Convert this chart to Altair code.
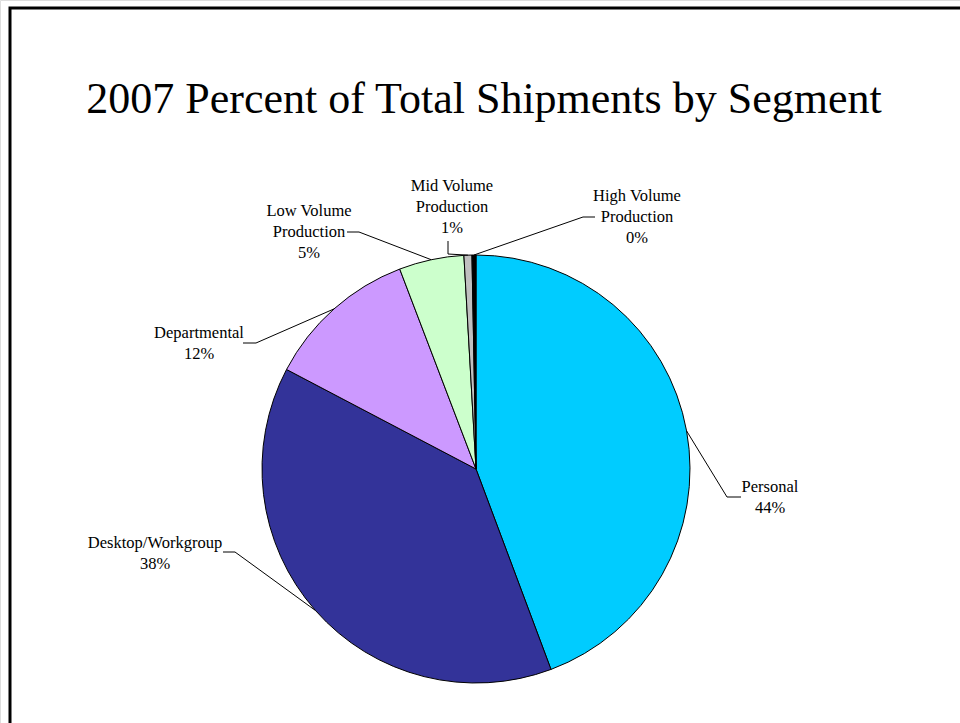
import math
import altair as alt
import pandas as pd

# ---- data ----
segments = ["Personal", "Desktop/Workgroup", "Departmental",
            "Low Volume Production", "Mid Volume Production", "High Volume Production"]
label_text = ["Personal", "Desktop/Workgroup", "Departmental",
              "Low Volume\nProduction", "Mid Volume\nProduction", "High Volume\nProduction"]
values = [44.3, 38.4, 11.5, 4.9, 0.6, 0.3]
colors = ["#00CCFF", "#333399", "#CC99FF", "#CCFFCC", "#C0C0C0", "#000000"]
title_text = "2007 Percent of Total Shipments by Segment"

# ---- layout (pixels) ----
W, H = 960, 723
CX, CY, R = 476, 469, 214
FONT = "Liberation Serif"
# first-line centre of each label block, and leader elbow/end points (layout, not data)
label_pos = [(770, 487), (155, 543), (199, 333), (309, 211), (452, 186), (637, 196)]
leader_mid = [(727, 497), (235, 552), (256, 343), (359, 232), (448, 254), (583, 217)]
leader_end = [(741, 497), (223, 552), (243, 343), (347, 232), (448, 241), (595, 217)]

total = sum(values)
pct = [int(v / total * 100 + 0.5) for v in values]

pie_df = pd.DataFrame({"segment": segments, "value": values, "idx": list(range(len(values)))})

# leader lines start on the pie edge at each slice's mid-angle
rows = []
cum = 0.0
for i, v in enumerate(values):
    mid = (cum + v / 2) / total * 2 * math.pi
    cum += v
    sx = CX + R * math.sin(mid)
    sy = CY - R * math.cos(mid)
    pts = [(sx, sy), leader_mid[i], leader_end[i]]
    for k, (px, py) in enumerate(pts):
        rows.append({"seg": segments[i], "k": k, "x": px, "y": py})
lines_df = pd.DataFrame(rows)

lab_df = pd.DataFrame({
    "seg": segments,
    "x": [p[0] for p in label_pos],
    "y": [p[1] for p in label_pos],
    "txt": [f"{t}\n{p}%" for t, p in zip(label_text, pct)],
})

pie = alt.Chart(pie_df).mark_arc(stroke="black", strokeWidth=1).encode(
    theta=alt.Theta("value:Q", stack=True),
    color=alt.Color("segment:N", scale=alt.Scale(domain=segments, range=colors), legend=None),
    order=alt.Order("idx:Q"),
    x=alt.value(CX), y=alt.value(CY), radius=alt.value(R),
)

leaders = alt.Chart(lines_df).mark_line(color="black", strokeWidth=1).encode(
    x=alt.X("x:Q", scale=None, axis=None),
    y=alt.Y("y:Q", scale=None, axis=None),
    detail="seg:N",
    order="k:Q",
)

labels = alt.Chart(lab_df).mark_text(
    font=FONT, fontSize=16.5, color="black", align="center", baseline="middle",
    lineBreak="\n", lineHeight=21,
).encode(
    x=alt.X("x:Q", scale=None, axis=None),
    y=alt.Y("y:Q", scale=None, axis=None),
    text="txt:N",
)

title = alt.Chart(pd.DataFrame({"t": [title_text]})).mark_text(
    font=FONT, fontSize=44, color="black", align="center", baseline="alphabetic",
).encode(x=alt.value(484), y=alt.value(113), text="t:N")

frame = alt.Chart(pd.DataFrame({"a": [0]})).mark_rect(
    fill=None, stroke="black", strokeWidth=3,
).encode(x=alt.value(10), x2=alt.value(990), y=alt.value(8), y2=alt.value(760))

chart = alt.layer(frame, title, pie, leaders, labels).properties(
    width=W, height=H, padding=0, autosize=alt.AutoSizeParams(type="none"),
).configure_view(stroke=None).configure(background="white")

chart.save("out.html", embed_options={"renderer": "svg", "actions": False})
